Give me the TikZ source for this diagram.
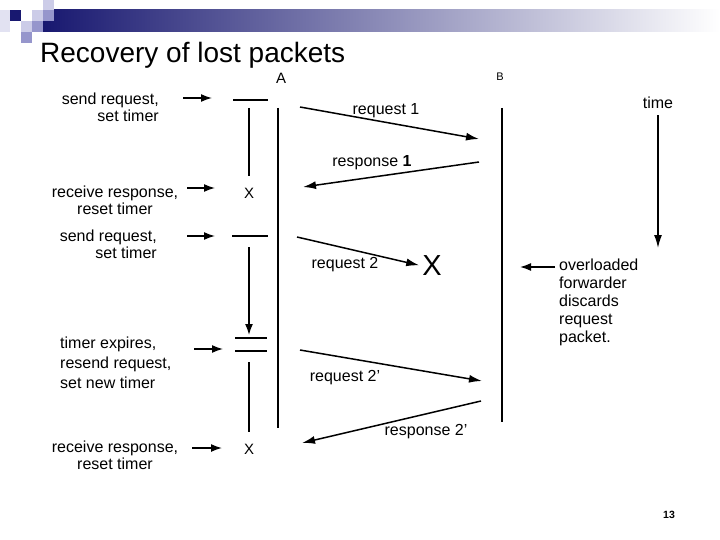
\documentclass[tikz,border=0pt]{standalone}
\usepackage{fontspec}
\setmainfont{Liberation Sans}
\usepackage{xcolor}
\usepackage{tikz}
\usetikzlibrary{arrows.meta}
\definecolor{navyhead}{RGB}{24,24,112}
\definecolor{lavpale}{RGB}{226,226,242}
\definecolor{lavlight}{RGB}{204,204,232}
\definecolor{lavmid}{RGB}{150,150,204}
\tikzset{
  evtext/.style={inner sep=0pt, font=\fontsize{16}{17}\selectfont},
  msgtext/.style={inner sep=0pt, font=\fontsize{16}{18}\selectfont},
  lifeline/.style={line width=1.8pt},
  tickline/.style={line width=1.8pt},
  evarr/.style={-{Latex[length=11pt,width=8pt]}, line width=1.5pt},
  marr/.style={-{Latex[length=13pt,width=8pt]}, line width=1.5pt}
}

\begin{document}
\begin{tikzpicture}[x=1pt, y=-1pt]
  \useasboundingbox (0,0) rectangle (720,540);

  %% -- Header bar and squares --
  \shade[left color=navyhead, right color=white] (43,10) rectangle (720,32);
  \fill[lavlight] (43,0)  rectangle (54,10);
  \fill[lavpale]  (0,10)  rectangle (10,32);
  \fill[navyhead] (10,10) rectangle (21,21);
  \fill[lavlight] (32,10) rectangle (43,21);
  \fill[lavmid]   (43,10) rectangle (54,21);
  \fill[lavlight] (21,21) rectangle (32,32);
  \fill[lavmid]   (32,21) rectangle (43,32);
  \fill[lavmid]   (21,32) rectangle (32,43);

  %% -- Title --
  \node[anchor=base west, inner sep=0pt, font=\fontsize{28}{30}\selectfont]
    (title) at (40,63) {Recovery of lost packets};

  %% -- Hosts --
  \node[font=\fontsize{15}{15}\selectfont] (hostA) at (281,78) {A};
  \node[font=\fontsize{11}{11}\selectfont] (hostB) at (500,77) {B};
  \coordinate (aTop) at (278,108);
  \coordinate (aBot) at (278,428);
  \coordinate (bTop) at (502,108);
  \coordinate (bBot) at (502,422);
  \draw[lifeline] (aTop) -- (aBot);
  \draw[lifeline] (bTop) -- (bBot);

  %% -- Event labels --
  \node[evtext, align=right, anchor=east] (ev1) at (159,107)
    {send request,\\set timer};
  \node[evtext, align=center] (ev2) at (115,200)
    {receive response,\\reset timer};
  \node[evtext, align=right, anchor=east] (ev3) at (157,244)
    {send request,\\set timer};
  \node[evtext, align=left, anchor=west,
        font=\fontsize{16}{20}\selectfont] (ev4) at (60,363)
    {timer expires,\\resend request,\\set new timer};
  \node[evtext, align=center] (ev5) at (115,455)
    {receive response,\\reset timer};

  %% -- Timer column --
  \coordinate (t1l) at (233,100);  \coordinate (t1r) at (268,100);
  \coordinate (t1d) at (249,108);  \coordinate (t1e) at (249,176);
  \node[font=\fontsize{15}{15}\selectfont, inner sep=0pt] (x1) at (249,193) {X};
  \coordinate (t2l) at (232,236);  \coordinate (t2r) at (268,236);
  \coordinate (t2d) at (249,247);  \coordinate (t2e) at (249,335);
  \coordinate (t3l) at (235,338);  \coordinate (t3r) at (267,338);
  \coordinate (t4l) at (235,351);  \coordinate (t4r) at (267,351);
  \coordinate (t4d) at (249,362);  \coordinate (t4e) at (249,432);
  \node[font=\fontsize{15}{15}\selectfont, inner sep=0pt] (x2) at (249,449) {X};

  \draw[tickline] (t1l) -- (t1r);
  \draw[lifeline] (t1d) -- (t1e);
  \draw[tickline] (t2l) -- (t2r);
  \draw[evarr]    (t2d) -- (t2e);
  \draw[tickline] (t3l) -- (t3r);
  \draw[tickline] (t4l) -- (t4r);
  \draw[lifeline] (t4d) -- (t4e);

  %% -- Arrows: events to timer --
  \coordinate (e1s) at (183,98);   \coordinate (e1e) at (212,98);
  \coordinate (e2s) at (187,188);  \coordinate (e2e) at (215,188);
  \coordinate (e3s) at (187,236);  \coordinate (e3e) at (215,236);
  \coordinate (e4s) at (194,349);  \coordinate (e4e) at (223,349);
  \coordinate (e5s) at (192,448);  \coordinate (e5e) at (222,448);
  \draw[evarr] (e1s) -- (e1e);
  \draw[evarr] (e2s) -- (e2e);
  \draw[evarr] (e3s) -- (e3e);
  \draw[evarr] (e4s) -- (e4e);
  \draw[evarr] (e5s) -- (e5e);

  %% -- Messages --
  \coordinate (q1s) at (300,107);  \coordinate (q1e) at (479,139);
  \coordinate (r1s) at (479,162);  \coordinate (r1e) at (303,187);
  \coordinate (q2s) at (297,237);
  \coordinate (q3s) at (300,350);  \coordinate (q3e) at (482,381);
  \coordinate (r3s) at (481,401);  \coordinate (r3e) at (302,443);
  \node[font=\fontsize{29}{29}\selectfont, inner sep=0pt] (lostX) at (432,266) {X};

  \draw[marr] (q1s) -- (q1e);
  \draw[marr] (r1s) -- (r1e);
  \draw[marr, shorten >=3pt] (q2s) -- (lostX.west);
  \draw[marr] (q3s) -- (q3e);
  \draw[marr] (r3s) -- (r3e);

  \node[msgtext] (lq1) at (386,111) {request 1};
  \node[msgtext] (lr1) at (372,163) {response \textbf{1}};
  \node[msgtext] (lq2) at (345,265) {request 2};
  \node[msgtext] (lq3) at (345,378) {request 2'};
  \node[msgtext] (lr3) at (426,432) {response 2'};

  %% -- Time axis and forwarder note --
  \node[msgtext] (time) at (658,103) {time};
  \coordinate (timeEnd) at (658,248);
  \draw[marr] (time.south) ++(0,6) coordinate (timeTop) (timeTop) -- (timeEnd);

  \node[msgtext, align=left, anchor=north west] (ovl) at (559,259)
    {overloaded\\forwarder\\discards\\request\\packet.};
  \coordinate (ovs) at (555,267);
  \coordinate (ove) at (520,267);
  \draw[marr, -{Latex[length=11pt,width=8pt]}] (ovs) -- (ove);

  %% -- Page number --
  \node[font=\fontsize{10.5}{11}\selectfont\bfseries, inner sep=0pt] (pnum)
    at (669,515) {13};
\end{tikzpicture}
\end{document}
